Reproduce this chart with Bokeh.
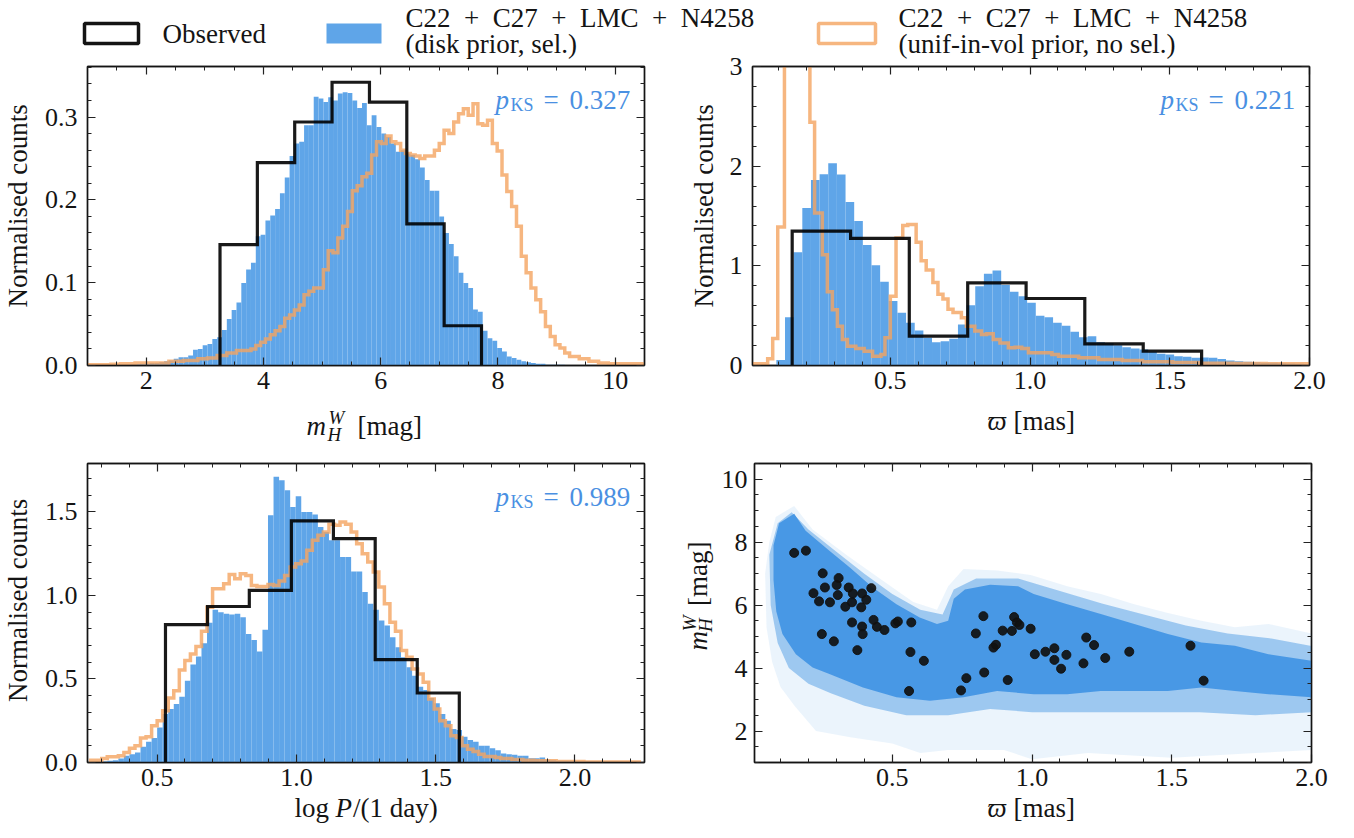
import numpy as np
from bokeh.plotting import figure
from bokeh.models import Range1d, FixedTicker, LinearAxis, Label, PrintfTickFormatter, Axis
from bokeh.layouts import column, row
from bokeh.embed import file_html
from bokeh.resources import INLINE

# ---------------------------------------------------------------- data
# panel 1 : m_H^W
MAG_OBS_EDGES = [3.26, 3.897, 4.534, 5.171, 5.809, 6.446, 7.083, 7.72]
MAG_OBS = [0.146, 0.245, 0.294, 0.342, 0.318, 0.171, 0.048]
MAG_BIN_START = 0.9885
MAG_BIN_WIDTH = 0.08234
MAG_DISK = [0.0005, 0.0005, 0.0005, 0.0005, 0.0008, 0.0008, 0.001, 0.001, 0.001, 0.0015, 0.0015, 0.002,
            0.002, 0.003, 0.003, 0.004, 0.005, 0.006, 0.008, 0.010, 0.010, 0.012,
            0.019, 0.020, 0.0245, 0.026, 0.032, 0.034, 0.043, 0.056, 0.067, 0.076,
            0.0996, 0.116, 0.124, 0.156, 0.158, 0.175, 0.181, 0.189, 0.208, 0.227,
            0.253, 0.268, 0.27, 0.29, 0.29, 0.3245, 0.3225, 0.318, 0.324, 0.32,
            0.3285, 0.33, 0.329, 0.32, 0.311, 0.317, 0.29, 0.302, 0.288, 0.28,
            0.276, 0.268, 0.258, 0.26, 0.256, 0.254, 0.249, 0.239, 0.224, 0.211,
            0.211, 0.18, 0.16, 0.1466, 0.132, 0.112, 0.0996, 0.0936, 0.0675, 0.065,
            0.042, 0.033, 0.030, 0.021, 0.017, 0.011, 0.009, 0.007, 0.005, 0.004,
            0.003, 0.002, 0.002, 0.001, 0.001, 0.001, 0.0008, 0.0005, 0.0005, 0.0005,
            0.0003, 0.0003, 0.0003, 0.0002, 0.0002, 0.0002, 0.0001, 0.0001, 0.0001, 0.0001,
            0.0, 0.0, 0.0, 0.0, 0.0]
MAG_UNIF = [0.001, 0.001, 0.001, 0.001, 0.001, 0.0015, 0.0015, 0.002, 0.002, 0.002, 0.003, 0.003,
            0.003, 0.003, 0.003, 0.003, 0.003, 0.005, 0.005, 0.005, 0.006, 0.006,
            0.006, 0.008, 0.008, 0.009, 0.009, 0.012, 0.012, 0.015, 0.015, 0.018,
            0.018, 0.018, 0.020, 0.024, 0.028, 0.032, 0.037, 0.042, 0.047, 0.057,
            0.061, 0.067, 0.073, 0.0855, 0.0896, 0.0936, 0.0936, 0.1157, 0.1386, 0.136,
            0.154, 0.168, 0.186, 0.211, 0.217, 0.228, 0.232, 0.254, 0.27, 0.268,
            0.277, 0.27, 0.268, 0.26, 0.256, 0.254, 0.253, 0.25, 0.253, 0.253,
            0.26, 0.268, 0.284, 0.28, 0.294, 0.304, 0.31, 0.302, 0.316, 0.292,
            0.29, 0.296, 0.268, 0.259, 0.23, 0.21, 0.192, 0.168, 0.132, 0.112,
            0.0936, 0.0795, 0.065, 0.047, 0.035, 0.025, 0.021, 0.015, 0.011, 0.011,
            0.008, 0.008, 0.005, 0.005, 0.003, 0.003, 0.002, 0.002, 0.002, 0.002,
            0.002, 0.002, 0.002, 0.001, 0.001]

# panel 2 : parallax
PLX_OBS_EDGES = [0.149, 0.358, 0.568, 0.777, 0.986, 1.196, 1.405, 1.614]
PLX_OBS = [1.348, 1.275, 0.294, 0.83, 0.672, 0.2175, 0.144]
PLX_BIN_START = 0.0924
PLX_BIN_WIDTH = 0.03094
PLX_DISK = [0.054, 0.485, 1.137, 1.58, 1.86, 1.92, 2.03, 1.917, 1.64, 1.45,
            1.21, 1.007, 0.84, 0.646, 0.529, 0.428, 0.351, 0.278, 0.234, 0.244,
            0.268, 0.411, 0.605, 0.796, 0.92, 0.953, 0.807, 0.74, 0.696, 0.63,
            0.50, 0.485, 0.428, 0.40, 0.338, 0.284, 0.294, 0.234, 0.227, 0.204,
            0.184, 0.17, 0.16, 0.137, 0.117, 0.11, 0.094, 0.087, 0.077, 0.08,
            0.077, 0.064, 0.05, 0.043, 0.037, 0.033, 0.027, 0.027, 0.023, 0.02,
            0.017, 0.013]
PLX_UNIF_EDGES = [0.007, 0.0613, 0.0793, 0.0973, 0.1213, 0.144, 0.167, 0.19, 0.2124, 0.2292,
                  0.2568, 0.2748, 0.2928, 0.3107, 0.3287, 0.3467, 0.3767, 0.4067, 0.4366, 0.4666,
                  0.4810, 0.5002, 0.5206, 0.5446, 0.5626, 0.5925, 0.6105, 0.6285, 0.6525, 0.6705,
                  0.6885, 0.7065, 0.7245, 0.7544, 0.7724, 0.8024, 0.8264, 0.8444, 0.8684, 0.8924,
                  0.9224, 0.9463, 0.9703, 0.9943, 1.0781, 1.1021, 1.1740, 1.2460, 1.3300, 1.4019,
                  1.5099, 1.6058, 1.7257, 1.8456, 2.0]
PLX_UNIF = [0.017, 0.067, 0.27, 1.39, 4.2, 5.6, 5.0, 3.8, 2.44, 1.53,
            1.11, 0.74, 0.56, 0.395, 0.26, 0.194, 0.171, 0.144, 0.094, 0.11,
            0.278, 0.696, 1.28, 1.405, 1.415, 1.237, 1.05, 0.957, 0.833, 0.716,
            0.666, 0.565, 0.532, 0.48, 0.395, 0.345, 0.31, 0.318, 0.26, 0.227,
            0.177, 0.184, 0.171, 0.127, 0.11, 0.094, 0.077, 0.06, 0.05, 0.037,
            0.03, 0.023, 0.02, 0.017]

# panel 3 : log period
LOGP_OBS_EDGES = [0.530, 0.681, 0.831, 0.982, 1.133, 1.283, 1.434, 1.585]
LOGP_OBS = [0.826, 0.934, 1.03, 1.446, 1.34, 0.616, 0.416]
LOGP_BIN_START = 0.2613
LOGP_BIN_WIDTH = 0.0199
LOGP_DISK = [0.004, 0.005, 0.006,
             0.01, 0.014, 0.024, 0.04, 0.05, 0.06, 0.094, 0.124, 0.146, 0.21,
             0.29, 0.32, 0.35, 0.394, 0.49, 0.586, 0.634, 0.714, 0.836, 0.914,
             0.9, 0.89, 0.886, 0.89, 0.87, 0.77, 0.734, 0.664, 0.794, 1.48,
             1.71, 1.69, 1.63, 1.53, 1.594, 1.5, 1.5, 1.484, 1.41, 1.38,
             1.33, 1.33, 1.23, 1.23, 1.144, 1.144, 1.02, 0.95, 0.914, 0.85,
             0.82, 0.75, 0.69, 0.63, 0.57, 0.52, 0.454, 0.434, 0.386, 0.354,
             0.29, 0.25, 0.2, 0.194, 0.154, 0.134, 0.124, 0.1, 0.1, 0.086,
             0.074, 0.054, 0.05, 0.046, 0.04, 0.04, 0.026, 0.026, 0.03, 0.016,
             0.014, 0.01, 0.01, 0.01, 0.006, 0.006, 0.006, 0.006, 0.004, 0.004,
             0.004, 0.004, 0.004, 0.002, 0.002, 0.002]
LOGP_UNIF = [0.014, 0.014, 0.024,
             0.034, 0.034, 0.04, 0.06, 0.086, 0.1, 0.146, 0.154, 0.22, 0.25,
             0.31, 0.386, 0.43, 0.554, 0.61, 0.65, 0.694, 0.786, 0.93, 1.04,
             1.04, 1.07, 1.126, 1.1, 1.13, 1.12, 1.06, 1.054, 1.054, 1.066,
             1.06, 1.086, 1.12, 1.17, 1.19, 1.206, 1.27, 1.33, 1.36, 1.38,
             1.426, 1.42, 1.44, 1.426, 1.38, 1.31, 1.25, 1.2, 1.14, 1.05,
             0.95, 0.84, 0.786, 0.67, 0.63, 0.56, 0.53, 0.48, 0.38, 0.32,
             0.25, 0.22, 0.16, 0.15, 0.1, 0.08, 0.066, 0.05, 0.036, 0.036,
             0.03, 0.024, 0.024, 0.018, 0.018, 0.014, 0.014, 0.01, 0.01, 0.01,
             0.01, 0.006, 0.006, 0.006, 0.006, 0.006, 0.003, 0.003, 0.003, 0.003,
             0.003, 0.003, 0.003, 0.003, 0.003, 0.003]

# panel 4 : observed stars (parallax [mas], m_H^W [mag])
STAR_PLX = [0.149, 0.191, 0.251, 0.308, 0.259, 0.218, 0.301, 0.305, 0.238, 0.277,
            0.344, 0.359, 0.392, 0.332, 0.356, 0.389, 0.407, 0.425, 0.356, 0.392,
            0.394, 0.433, 0.445, 0.472, 0.511, 0.520, 0.568, 0.248, 0.291, 0.375,
            0.565, 0.613, 0.560, 0.746, 0.765, 0.826, 0.799, 0.829, 0.862, 0.871,
            0.895, 0.928, 0.936, 0.946, 0.955, 0.913, 0.995, 1.01, 1.048, 1.08,
            1.08, 1.104, 1.123, 1.184, 1.194, 1.222, 1.262, 1.348, 1.567, 1.614]
STAR_MAG = [7.66, 7.73, 7.01, 6.86, 6.56, 6.38, 6.64, 6.32, 6.12, 6.09,
            6.56, 6.37, 6.37, 5.95, 6.09, 5.93, 6.17, 6.54, 5.45, 5.32,
            5.08, 5.53, 5.31, 5.21, 5.42, 5.48, 5.45, 5.08, 4.85, 4.57,
            4.51, 4.23, 3.27, 3.29, 3.68, 5.65, 5.10, 3.86, 4.65, 4.74,
            5.19, 5.18, 5.62, 5.45, 5.37, 3.62, 5.25, 4.44, 4.52, 4.63,
            4.26, 3.98, 4.42, 4.15, 4.97, 4.73, 4.32, 4.52, 4.71, 3.60]

# simulated sample cloud (outline of the point density: outer / middle / core)
CLOUD_OUTER_PLX = [0.045, 0.06, 0.083, 0.12, 0.149, 0.215, 0.335, 0.455, 0.575, 0.66, 0.70, 0.755,
                   0.875, 0.995, 1.126, 1.246, 1.366, 1.486, 1.606, 1.726, 1.846, 2.0,
                   2.0, 1.8, 1.5, 1.2, 1.0, 0.9, 0.7, 0.6, 0.5, 0.35, 0.227, 0.15, 0.10, 0.07, 0.05]
CLOUD_OUTER_MAG = [7.0, 8.0, 8.8, 9.0, 9.15, 8.4, 7.6, 6.85, 6.1, 5.85, 6.6, 7.15,
                   7.1, 6.96, 6.6, 6.35, 6.03, 5.75, 5.5, 5.3, 5.4, 5.1,
                   1.4, 1.3, 1.15, 1.3, 1.1, 1.4, 1.4, 1.3, 1.6, 1.8, 2.0, 2.8, 3.4, 4.2, 5.3]
CLOUD_MID_PLX = [0.06, 0.09, 0.14, 0.2, 0.3, 0.4, 0.5, 0.6, 0.68, 0.72, 0.8, 0.95, 1.1, 1.25,
                 1.4, 1.55, 1.7, 1.85, 2.0,
                 2.0, 1.8, 1.6, 1.4, 1.2, 1.0, 0.85, 0.7, 0.55, 0.4, 0.28, 0.2, 0.13, 0.09, 0.065]
CLOUD_MID_MAG = [7.6, 8.6, 8.95, 8.4, 7.7, 7.0, 6.35, 5.85, 5.7, 6.5, 6.85, 6.85, 6.45, 6.05,
                 5.7, 5.35, 5.1, 4.95, 4.7,
                 2.6, 2.5, 2.6, 2.6, 2.6, 2.6, 2.7, 2.5, 2.5, 2.8, 3.2, 3.5, 4.0, 4.8, 6.0]
CLOUD_CORE_PLX = [0.075, 0.095, 0.13, 0.149, 0.19, 0.275, 0.347, 0.43, 0.515, 0.598, 0.66, 0.70,
                  0.72, 0.76, 0.85, 0.95, 1.006, 1.126, 1.246, 1.366, 1.486, 1.606, 1.726, 1.846, 2.0,
                  2.0, 1.846, 1.726, 1.606, 1.486, 1.366, 1.246, 1.126, 1.006, 0.875, 0.755, 0.635,
                  0.515, 0.395, 0.275, 0.215, 0.155, 0.107, 0.085, 0.075]
CLOUD_CORE_MAG = [7.9, 8.6, 8.8, 8.9, 8.36, 7.73, 7.2, 6.56, 6.03, 5.61, 5.4, 5.5,
                  6.2, 6.5, 6.65, 6.6, 6.35, 6.03, 5.72, 5.4, 5.08, 4.81, 4.71, 4.44, 4.23,
                  3.07, 3.17, 3.27, 3.38, 3.27, 3.27, 3.27, 3.17, 3.17, 3.27, 3.07, 2.96,
                  3.07, 3.38, 3.81, 4.02, 4.44, 5.08, 5.8, 6.8]

PKS = ["0.327", "0.221", "0.989"]
LEGEND_LABELS = ["Observed", "C22\u2002+\u2002C27\u2002+\u2002LMC\u2002+\u2002N4258",
                 "(disk prior, sel.)", "(unif-in-vol prior, no sel.)"]

# ---------------------------------------------------------------- style
FONT = "Liberation Serif"
BLUE = "#5fa5e8"
CLOUD = "#3f92e3"
ORANGE = "#f4a460"
BLACK = "#141414"
KS_BLUE = "#4a90e2"
TICK = "26px"
LAB = 27
SMALL = 19
FW, FH = 557, 299
MID = 0.34   # baseline -> text-box middle, as a fraction of the font size


def uniform_edges(start, width, n):
    return start + width * np.arange(n + 1)


def step_path(edges, vals):
    e = np.asarray(edges, float)
    v = np.asarray(vals, float)
    xs = np.concatenate([[e[0]], np.column_stack([e[:-1], e[1:]]).ravel(), [e[-1]]])
    ys = np.concatenate([[0.0], np.repeat(v, 2), [0.0]])
    return xs, ys


def make_fig(xr, yr, left, right, top, bottom):
    p = figure(frame_width=FW, frame_height=FH, x_range=Range1d(*xr), y_range=Range1d(*yr),
               toolbar_location=None, output_backend="svg",
               min_border_left=left, min_border_right=right,
               min_border_top=top, min_border_bottom=bottom)
    p.border_fill_color = None
    p.background_fill_color = "white"
    p.outline_line_color = BLACK
    p.outline_line_width = 1.4
    p.xgrid.visible = False
    p.ygrid.visible = False
    return p


def set_axes(p, xt, xminor, xfmt, yt, yminor, yfmt, ystandoff=10):
    xtk = FixedTicker(ticks=xt, minor_ticks=list(xminor))
    ytk = FixedTicker(ticks=yt, minor_ticks=list(yminor))
    p.xaxis.ticker = xtk
    p.yaxis.ticker = ytk
    p.xaxis.formatter = PrintfTickFormatter(format=xfmt)
    p.yaxis.formatter = PrintfTickFormatter(format=yfmt)
    p.add_layout(LinearAxis(ticker=xtk), "above")
    p.add_layout(LinearAxis(ticker=ytk), "right")
    for side in ("below", "above", "left", "right"):
        for ax in getattr(p, side):
            if not isinstance(ax, Axis):
                continue
            ax.axis_line_color = BLACK
            ax.axis_line_width = 1.4
            ax.major_tick_in = 8
            ax.major_tick_out = 0
            ax.minor_tick_in = 4
            ax.minor_tick_out = 0
            ax.major_tick_line_color = "#222222"
            ax.minor_tick_line_color = "#222222"
            ax.major_tick_line_width = 1.2
            ax.minor_tick_line_width = 1.0
            ax.major_label_text_font = FONT
            ax.major_label_text_font_size = TICK
            ax.major_label_text_color = BLACK
            if side in ("above", "right"):
                ax.major_label_text_font_size = "0px"
                ax.major_label_text_color = None
                ax.major_label_standoff = 0
            elif side == "below":
                ax.major_label_standoff = 6
            else:
                ax.major_label_standoff = ystandoff


def pks(p, val):
    # frame-relative screen units (y upwards); y values are text baselines
    def lab(text, x, base, size=LAB, style="normal"):
        p.add_layout(Label(x=x, y=base + MID * size, x_units="screen", y_units="screen",
                           text=text, text_font=FONT, text_font_size=f"{size}px",
                           text_font_style=style, text_color=KS_BLUE,
                           text_baseline="middle"))
    lab("p", 408, 256.7, style="italic")
    lab("KS", 423, 254.7, size=18)
    lab("=", 456, 256.7)
    lab(val, 482, 256.7)


def hist_panel(p, edges_obs, obs, edges_model, disk, edges_unif, unif):
    e = np.asarray(edges_model)
    p.quad(left=e[:-1], right=e[1:], top=disk, bottom=0, fill_color=BLUE, line_color=None)
    ux, uy = step_path(edges_unif, unif)
    p.line(ux, uy, line_color=ORANGE, line_width=3.5, line_alpha=0.8, line_join="miter")
    ox, oy = step_path(edges_obs, obs)
    p.line(ox, oy, line_color="black", line_width=3.2, line_alpha=0.9, line_join="miter")


def strip(w, h):
    s = figure(width=w, height=h, x_range=Range1d(0, w), y_range=Range1d(h, 0),
               x_axis_type=None, y_axis_type=None, toolbar_location=None,
               output_backend="svg", min_border=0)
    s.outline_line_color = None
    s.background_fill_color = None
    s.border_fill_color = None
    return s


def stext(s, text, x, base, size=LAB, style="normal", rotated=False, align="left"):
    # strip coordinates (y downwards); (x, base) is the start of the text baseline
    if rotated:
        x, y, angle = x - MID * size, base, np.pi / 2
    else:
        x, y, angle = x, base - MID * size, 0.0
    s.add_layout(Label(x=x, y=y, text=text, text_font=FONT, text_font_size=f"{size}px",
                       text_font_style=style, text_color=BLACK, angle=angle,
                       text_align=align, text_baseline="middle"))


# ---------------------------------------------------------------- legend strip
leg = strip(1340, 68)
leg.margin = (0, 0, -18, 0)
leg.quad(left=[84], right=[138], top=[23], bottom=[43], fill_color=None,
         line_color=BLACK, line_width=3.5)
leg.quad(left=[326], right=[381], top=[23], bottom=[43], fill_color=BLUE, line_color=None)
leg.quad(left=[818], right=[875], top=[23], bottom=[43], fill_color=None,
         line_color=ORANGE, line_alpha=0.8, line_width=3.5)
stext(leg, LEGEND_LABELS[0], 162, 43)
stext(leg, LEGEND_LABELS[1], 405, 27)
stext(leg, LEGEND_LABELS[2], 405, 52.5)
stext(leg, LEGEND_LABELS[1], 898, 27)
stext(leg, LEGEND_LABELS[3], 898, 52.5)

# ---------------------------------------------------------------- panel 1
p1 = make_fig((1.0, 10.5), (0, 0.361), 47, 24, 16, 40)
hist_panel(p1, MAG_OBS_EDGES, MAG_OBS,
           uniform_edges(MAG_BIN_START, MAG_BIN_WIDTH, len(MAG_DISK)), MAG_DISK,
           uniform_edges(MAG_BIN_START, MAG_BIN_WIDTH, len(MAG_UNIF)), MAG_UNIF)
set_axes(p1, [2, 4, 6, 8, 10], np.arange(1.0, 10.51, 0.5), "%d",
         [0, 0.1, 0.2, 0.3], np.arange(0, 0.361, 0.02), "%.1f")
pks(p1, PKS[0])

# ---------------------------------------------------------------- panel 2
p2 = make_fig((0.007, 2.0), (0, 3.0), 32, 20, 16, 40)
hist_panel(p2, PLX_OBS_EDGES, PLX_OBS,
           uniform_edges(PLX_BIN_START, PLX_BIN_WIDTH, len(PLX_DISK)), PLX_DISK,
           PLX_UNIF_EDGES, PLX_UNIF)
set_axes(p2, [0.5, 1.0, 1.5, 2.0], np.arange(0.0, 2.001, 0.1), "%.1f",
         [0, 1, 2, 3], np.arange(0, 3.01, 0.2), "%d")
pks(p2, PKS[1])

# ---------------------------------------------------------------- panel 3
p3 = make_fig((0.25, 2.25), (0, 1.79), 47, 24, 8, 37)
hist_panel(p3, LOGP_OBS_EDGES, LOGP_OBS,
           uniform_edges(LOGP_BIN_START, LOGP_BIN_WIDTH, len(LOGP_DISK)), LOGP_DISK,
           uniform_edges(LOGP_BIN_START, LOGP_BIN_WIDTH, len(LOGP_UNIF)), LOGP_UNIF)
set_axes(p3, [0.5, 1.0, 1.5, 2.0], np.arange(0.3, 2.25, 0.1), "%.1f",
         [0, 0.5, 1.0, 1.5], np.arange(0, 1.79, 0.1), "%.1f")
pks(p3, PKS[2])

# ---------------------------------------------------------------- panel 4
p4 = make_fig((0.007, 2.0), (1.0, 10.5), 34, 20, 8, 37)
p4.patch(CLOUD_OUTER_PLX, CLOUD_OUTER_MAG, fill_color=CLOUD, fill_alpha=0.1, line_color=None)
p4.patch(CLOUD_MID_PLX, CLOUD_MID_MAG, fill_color=CLOUD, fill_alpha=0.45, line_color=None)
p4.patch(CLOUD_CORE_PLX, CLOUD_CORE_MAG, fill_color=CLOUD, fill_alpha=0.9, line_color=None)
p4.scatter(STAR_PLX, STAR_MAG, size=9, fill_color="#111111", line_color="#111111", alpha=0.92)
set_axes(p4, [0.5, 1.0, 1.5, 2.0], np.arange(0.0, 2.001, 0.1), "%.1f",
         [2, 4, 6, 8, 10], np.arange(1.0, 10.51, 0.5), "%d", ystandoff=7)

# ---------------------------------------------------------------- axis-title strips
y1 = strip(40, 355)
stext(y1, "Normalised counts", 27, 165.5, rotated=True, align="center")
y2 = strip(52, 355)
stext(y2, "Normalised counts", 45, 165.5, rotated=True, align="center")
y3 = strip(40, 344)
stext(y3, "Normalised counts", 27, 157.5, rotated=True, align="center")
y4 = strip(50, 344)
stext(y4, "m", 39, 215, style="italic", rotated=True)
stext(y4, "W", 27, 193, size=SMALL, style="italic", rotated=True)
stext(y4, "H", 43, 194, size=SMALL, style="italic", rotated=True)
stext(y4, "[mag]", 39, 164, rotated=True)

# x-axis titles (strips pulled up a little so that they overlap the tick-label area)
x1 = strip(668, 56)
x2 = strip(686, 56)
x1.margin = (-6, 0, 0, 0)
x2.margin = (-6, 0, 0, 0)
stext(x1, "m", 306, 36, style="italic")
stext(x1, "W", 328, 24, size=SMALL, style="italic")
stext(x1, "H", 327, 41, size=SMALL, style="italic")
stext(x1, "[mag]", 357, 36)
stext(x2, "\u03d6", 319, 31, style="italic")
stext(x2, "[mas]", 345, 31)

x3 = strip(668, 48)
x4 = strip(686, 48)
x3.margin = (-10, 0, 0, 0)
x4.margin = (-10, 0, 0, 0)
stext(x3, "log", 294, 28)
stext(x3, "P", 335, 28, style="italic")
stext(x3, "/(1 day)", 352.5, 28)
stext(x4, "\u03d6", 319, 28, style="italic")
stext(x4, "[mas]", 345, 28)

layout = column(leg,
                row(y1, p1, y2, p2),
                row(x1, x2),
                row(y3, p3, y4, p4),
                row(x3, x4))
open("out.html", "w").write(file_html(layout, INLINE))
